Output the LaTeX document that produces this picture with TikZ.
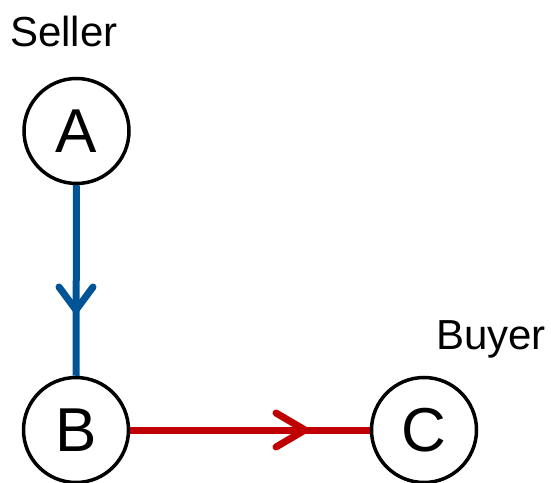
\documentclass[tikz,border=0pt]{standalone}
\usepackage{fontspec}
\setmainfont{Liberation Sans}
\definecolor{flowblue}{RGB}{0,84,150}
\definecolor{flowred}{RGB}{192,0,0}
\begin{document}
\begin{tikzpicture}[x=1pt,y=1pt,
  party/.style={circle,draw=black,line width=3.5pt,minimum size=105pt,inner sep=0pt,
    font=\fontsize{62}{62}\selectfont},
  role/.style={font=\fontsize{42}{42}\selectfont,inner sep=0pt},
  link/.style={line width=7pt},
  barb/.style={line width=7pt,line cap=round,line join=round}]
\useasboundingbox (0,0) rectangle (551,482);
% the three parties
\node[party] (A) at (76.5,351) {A};
\node[party] (B) at (76,52) {B};
\node[party] (C) at (424,52) {C};
% role labels
\node[role,anchor=base west] (seller) at (10,435) {Seller};
\node[role,anchor=base west] (buyer) at (436,132) {Buyer};
% A -> B
\draw[link,flowblue] (A) -- (B);
\coordinate (tipAB) at (76,172);
\draw[barb,flowblue] ([xshift=-17pt,yshift=23pt]tipAB) -- (tipAB) -- ([xshift=17pt,yshift=23pt]tipAB);
% B -> C
\draw[link,flowred] (B) -- (C);
\coordinate (tipBC) at (305,52);
\draw[barb,flowred] ([xshift=-29pt,yshift=17pt]tipBC) -- (tipBC) -- ([xshift=-29pt,yshift=-17pt]tipBC);
\end{tikzpicture}
\end{document}
